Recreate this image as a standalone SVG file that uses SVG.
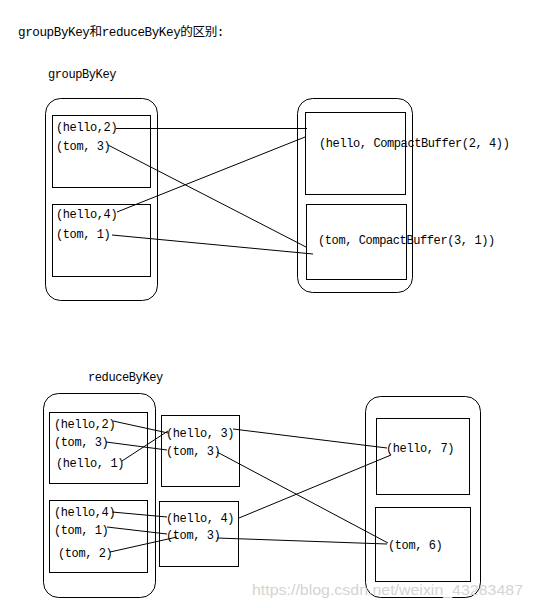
<svg xmlns="http://www.w3.org/2000/svg" width="533" height="608" viewBox="0 0 533 608">
<style>
.t{font-family:"Liberation Mono","Noto Sans CJK SC",monospace;font-size:12px;fill:#000;letter-spacing:-0.4px}
.b{fill:none;stroke:#000;stroke-width:1}
.c line{stroke:#000;stroke-width:1}
.wm{font-family:"Liberation Sans",Arial,sans-serif;font-size:15px;fill:#d4d4d4}
</style>
<rect width="533" height="608" fill="#fff"/>
<text class="t" x="18" y="36" textLength="206" lengthAdjust="spacingAndGlyphs">groupByKey和reduceByKey的区别:</text>
<text class="t" x="48" y="78">groupByKey</text>
<text class="t" x="88" y="381">reduceByKey</text>

<g id="g-left">
<rect class="b" x="45.5" y="98.5" width="112" height="202" rx="15"/>
</g>
<g id="g-left-1">
<rect class="b" x="52.5" y="115.5" width="98" height="72"/>
<text class="t" x="56" y="131">(hello,2)</text>
<text class="t" x="56" y="150">(tom, 3)</text>
</g>
<g id="g-left-2">
<rect class="b" x="52.5" y="204.5" width="98" height="72"/>
<text class="t" x="56" y="218">(hello,4)</text>
<text class="t" x="56" y="238">(tom, 1)</text>
</g>
<g id="g-right">
<rect class="b" x="297.5" y="98.5" width="115" height="194" rx="15"/>
</g>
<g id="g-right-1">
<rect class="b" x="305.5" y="112.5" width="100" height="82"/>
<text class="t" x="319" y="147">(hello, CompactBuffer(2, 4))</text>
</g>
<g id="g-right-2">
<rect class="b" x="306.5" y="204.5" width="100" height="75"/>
<text class="t" x="318" y="244">(tom, CompactBuffer(3, 1))</text>
</g>

<g id="r-left">
<rect class="b" x="43.5" y="393.5" width="112" height="204" rx="15"/>
</g>
<g id="r-left-1">
<rect class="b" x="49.5" y="412.5" width="98" height="71"/>
<text class="t" x="54" y="428">(hello,2)</text>
<text class="t" x="54" y="446">(tom, 3)</text>
<text class="t" x="56" y="467">(hello, 1)</text>
</g>
<g id="r-left-2">
<rect class="b" x="49.5" y="500.5" width="98" height="72"/>
<text class="t" x="54" y="516">(hello,4)</text>
<text class="t" x="54" y="534">(tom, 1)</text>
<text class="t" x="58" y="557">(tom, 2)</text>
</g>
<g id="r-mid-1">
<rect class="b" x="161.5" y="415.5" width="78" height="71"/>
<text class="t" x="166" y="437">(hello, 3)</text>
<text class="t" x="166" y="455">(tom, 3)</text>
</g>
<g id="r-mid-2">
<rect class="b" x="159.5" y="501.5" width="79" height="65"/>
<text class="t" x="166" y="522">(hello, 4)</text>
<text class="t" x="166" y="539">(tom, 3)</text>
</g>
<g id="r-right">
<rect class="b" x="365.5" y="396.5" width="115" height="201" rx="15"/>
</g>
<g id="r-right-1">
<rect class="b" x="376.5" y="418.5" width="93" height="76"/>
<text class="t" x="386" y="452">(hello, 7)</text>
</g>
<g id="r-right-2">
<rect class="b" x="375.5" y="507.5" width="95" height="74"/>
<text class="t" x="388" y="549">(tom, 6)</text>
</g>

<g id="connectors" class="c">
<line x1="116" y1="128.5" x2="307" y2="128.5"/>
<line x1="108" y1="145" x2="306" y2="247"/>
<line x1="117" y1="212" x2="305" y2="137"/>
<line x1="112" y1="235" x2="313" y2="254"/>

<line x1="113" y1="421" x2="168" y2="433"/>
<line x1="106" y1="442" x2="167" y2="450"/>
<line x1="122" y1="461" x2="168" y2="431"/>
<line x1="112" y1="512" x2="167" y2="517"/>
<line x1="107" y1="527" x2="167" y2="534"/>
<line x1="110" y1="552" x2="177" y2="537"/>

<line x1="233" y1="429" x2="387" y2="448"/>
<line x1="217" y1="452" x2="388" y2="543"/>
<line x1="239" y1="518" x2="391" y2="455"/>
<line x1="217" y1="538" x2="387" y2="544"/>
</g>
<text class="wm" x="252" y="595" textLength="271" lengthAdjust="spacingAndGlyphs">https://blog.csdn.net/weixin_43283487</text>
</svg>
